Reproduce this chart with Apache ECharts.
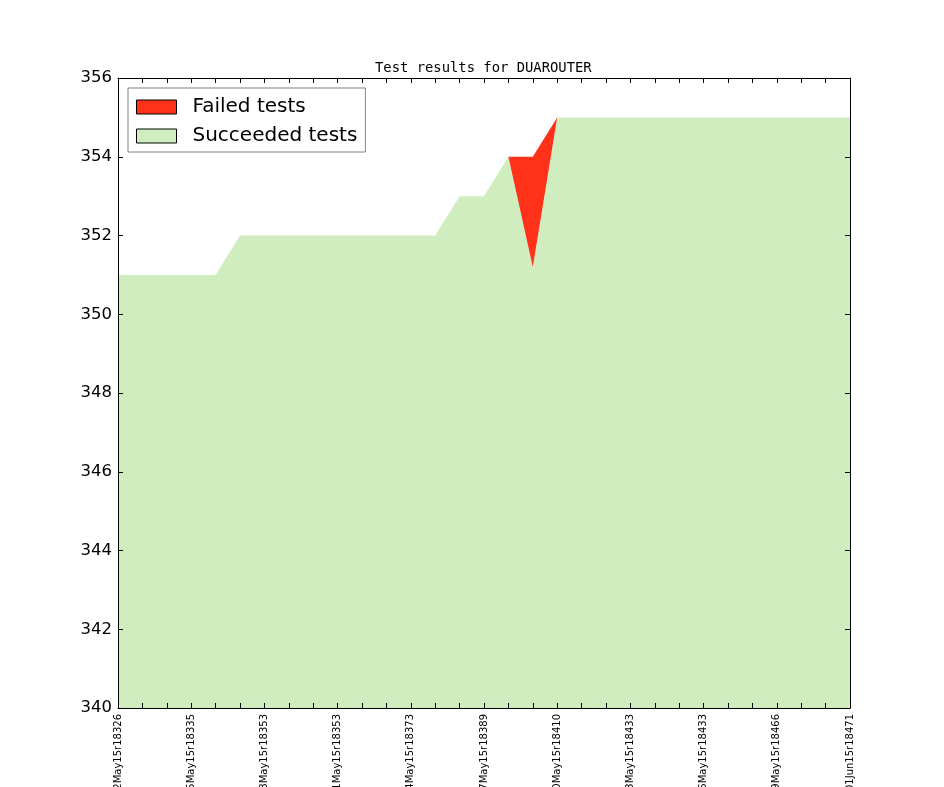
<!DOCTYPE html>
<html>
<head>
<meta charset="utf-8">
<script src="https://cdn.jsdelivr.net/npm/echarts@6/dist/echarts.min.js"></script>
<style>html,body{margin:0;padding:0;background:#fff;}#c{width:944px;height:787px;}</style>
</head>
<body>
<div id="c"></div>
<script>
var tickLabels = ['02May15r18326','05May15r18335','08May15r18353','11May15r18353','14May15r18373','17May15r18389','20May15r18410','23May15r18433','26May15r18433','29May15r18466','01Jun15r18471'];
var succeeded = [351,351,351,351,351, 352,352,352,352,352,352,352,352,352, 353,353, 354, 351.2, 355,355,355,355,355,355,355,355,355,355,355,355,355];
var failed =    [0,0,0,0,0, 0,0,0,0,0,0,0,0,0, 0,0, 0, 2.8, 0,0,0,0,0,0,0,0,0,0,0,0,0];
var yTicks = [340,342,344,346,348,350,352,354,356];

var categories = [];
for (var i = 0; i < succeeded.length; i++) {
  categories.push(i % 3 === 0 ? tickLabels[i / 3] : '');
}
var GREEN = '#cfedbe', RED = '#ff3119';
var chart = echarts.init(document.getElementById('c'), null, {renderer: 'canvas'});
var commonTick = {show: true, inside: true, length: 5, lineStyle: {color: '#000', width: 1}};
chart.setOption({
  animation: false,
  backgroundColor: '#fff',
  title: {
    text: 'Test results for DUAROUTER',
    left: 370, top: 56, padding: [5, 5, 5, 5],
    textStyle: {fontFamily: 'DejaVu Sans Mono', fontSize: 13.85, fontWeight: 'normal', color: '#000'}
  },
  legend: {
    left: 128, top: 88, orient: 'vertical',
    backgroundColor: '#fff', borderColor: '#808080', borderWidth: 1,
    padding: [9, 8, 6, 8], itemGap: 9, itemWidth: 40, itemHeight: 14,
    icon: 'rect',
    textStyle: {fontFamily: 'DejaVu Sans', fontSize: 20, color: '#000', padding: [0, 0, 0, 11]},
    data: [
      {name: 'Failed tests', itemStyle: {color: RED, borderColor: '#000', borderWidth: 1}},
      {name: 'Succeeded tests', itemStyle: {color: GREEN, borderColor: '#000', borderWidth: 1}}
    ]
  },
  grid: {left: 118, right: 94, top: 78, bottom: 79, containLabel: false, outerBoundsMode: 'none'},
  xAxis: [{
    type: 'category', data: categories, boundaryGap: false, position: 'bottom', z: 10,
    axisLine: {show: true, onZero: false, lineStyle: {color: '#000', width: 1}},
    axisTick: Object.assign({interval: 0}, commonTick),
    axisLabel: {interval: 2, rotate: 90, fontFamily: 'DejaVu Sans', fontSize: 10, color: '#000', margin: 6},
    splitLine: {show: false}
  }, {
    type: 'category', data: categories, boundaryGap: false, position: 'top', z: 10,
    axisLine: {show: true, onZero: false, lineStyle: {color: '#000', width: 1}},
    axisTick: Object.assign({interval: 0}, commonTick),
    axisLabel: {show: false}, splitLine: {show: false}
  }],
  yAxis: [{
    type: 'value', min: yTicks[0], max: yTicks[yTicks.length - 1], interval: 2, position: 'left', z: 10,
    axisLine: {show: true, onZero: false, lineStyle: {color: '#000', width: 1}},
    axisTick: commonTick,
    axisLabel: {fontFamily: 'DejaVu Sans', fontSize: 16.5, color: '#000', margin: 6},
    splitLine: {show: false}
  }, {
    type: 'value', min: yTicks[0], max: yTicks[yTicks.length - 1], interval: 2, position: 'right', z: 10,
    axisLine: {show: true, onZero: false, lineStyle: {color: '#000', width: 1}},
    axisTick: commonTick,
    axisLabel: {show: false}, splitLine: {show: false}
  }],
  series: [{
    name: 'Succeeded tests', type: 'line', stack: 'total', data: succeeded,
    symbol: 'none', lineStyle: {width: 0}, itemStyle: {color: GREEN},
    areaStyle: {color: GREEN, opacity: 1}
  }, {
    name: 'Failed tests', type: 'line', stack: 'total', data: failed,
    symbol: 'none', lineStyle: {width: 0}, itemStyle: {color: RED},
    areaStyle: {color: RED, opacity: 1}
  }]
});
</script>
</body>
</html>
